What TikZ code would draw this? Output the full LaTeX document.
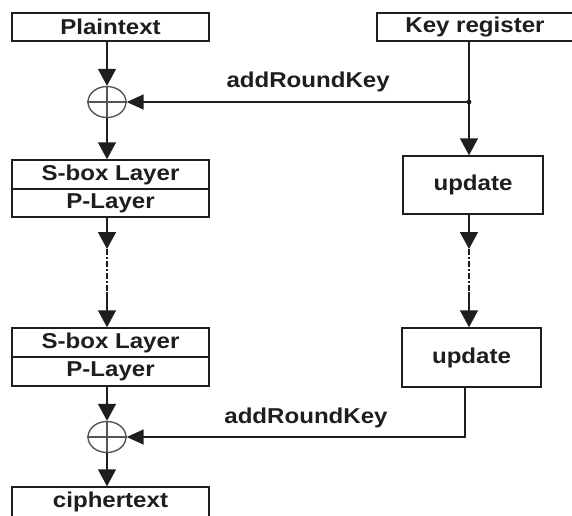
\documentclass[tikz,border=0pt]{standalone}
\usepackage{fontspec}
\setmainfont{Liberation Sans}
\usetikzlibrary{shapes.geometric,arrows.meta}
\newcommand\tx[1]{\scalebox{1.12}[1]{#1}}
\definecolor{ink}{HTML}{1E1E1E}
\definecolor{ring}{HTML}{555555}
\tikzset{
  box/.style={draw=ink,line width=1.5pt,fill=white,inner sep=0pt,
    font=\bfseries\fontsize{21.5}{24}\selectfont,text=ink},
  xorn/.style={ellipse,draw=ring,line width=1.4pt,minimum width=38pt,minimum height=31pt,inner sep=0pt},
  link/.style={draw=ink,line width=1.5pt},
  arr/.style={link,-{Triangle[width=18pt,length=17pt]}},
  harr/.style={link,-{Triangle[width=15pt,length=17pt]}},
  dots/.style={draw=ink,line width=1.2pt,dash pattern=on 6pt off 2pt on 2pt off 2pt},
  lbl/.style={font=\bfseries\fontsize{21.5}{24}\selectfont,text=ink,inner sep=0pt}
}
\begin{document}
\begin{tikzpicture}[x=1pt,y=-1pt]
\useasboundingbox (0,0) rectangle (572,515);
% boxes
\node[box,minimum width=197pt,minimum height=28pt] (plain) at (110.5,27) {\tx{Plaintext}};
\node[box,minimum width=196pt,minimum height=28pt] (key) at (475,27) {\tx{Key register}};
\node[box,minimum width=197pt,minimum height=29pt] (sb1) at (110.5,174.5) {\tx{S-box Layer}};
\node[box,minimum width=197pt,minimum height=28pt] (pl1) at (110.5,203) {\tx{P-Layer}};
\node[box,minimum width=140pt,minimum height=58pt] (up1) at (473,185) {\tx{update}};
\node[box,minimum width=197pt,minimum height=29pt] (sb2) at (110.5,342.5) {\tx{S-box Layer}};
\node[box,minimum width=197pt,minimum height=29pt] (pl2) at (110.5,371.5) {\tx{P-Layer}};
\node[box,minimum width=139pt,minimum height=59pt] (up2) at (471.5,357.5) {\tx{update}};
\node[box,minimum width=197pt,minimum height=30pt] (ciph) at (110.5,502) {\tx{ciphertext}};
% xor nodes
\node[xorn] (x1) at (107,102) {};
\draw[ring,line width=1.4pt] (x1.north) -- (x1.south) (x1.west) -- (x1.east);
\node[xorn] (x2) at (107,437) {};
\draw[ring,line width=1.4pt] (x2.north) -- (x2.south) (x2.west) -- (x2.east);
% helper coordinates
\coordinate (jn) at (469,102);
\coordinate (la) at (107,249);
\coordinate (lb) at (107,292);
\coordinate (ra) at (469,249);
\coordinate (rb) at (469,292);
\coordinate (bend) at (465,437);
% left column
\draw[arr] (plain.south -| x1) -- (x1.north);
\draw[arr] (x1.south) -- (sb1.north -| x1);
\draw[arr] (pl1.south -| x1) -- (la);
\draw[dots] (la) -- (lb);
\draw[arr] (lb) -- (sb2.north -| lb);
\draw[arr] (pl2.south -| x2) -- (x2.north);
\draw[arr] (x2.south) -- (ciph.north -| x2);
% right column
\draw[link] (key.south -| jn) -- (jn);
\draw[arr] (jn) -- (up1.north -| jn);
\fill[ink] (jn) circle (2.4pt);
\draw[harr] (jn) -- (x1.east) node[lbl,pos=0.47,above=9pt] (k1) {\tx{addRoundKey}};
\draw[arr] (up1.south -| ra) -- (ra);
\draw[dots] (ra) -- (rb);
\draw[arr] (rb) -- (up2.north -| rb);
\draw[harr] (up2.south -| bend) -- (bend) -- (x2.east) node[lbl,pos=0.47,above=8pt] (k2) {\tx{addRoundKey}};
\end{tikzpicture}
\end{document}
